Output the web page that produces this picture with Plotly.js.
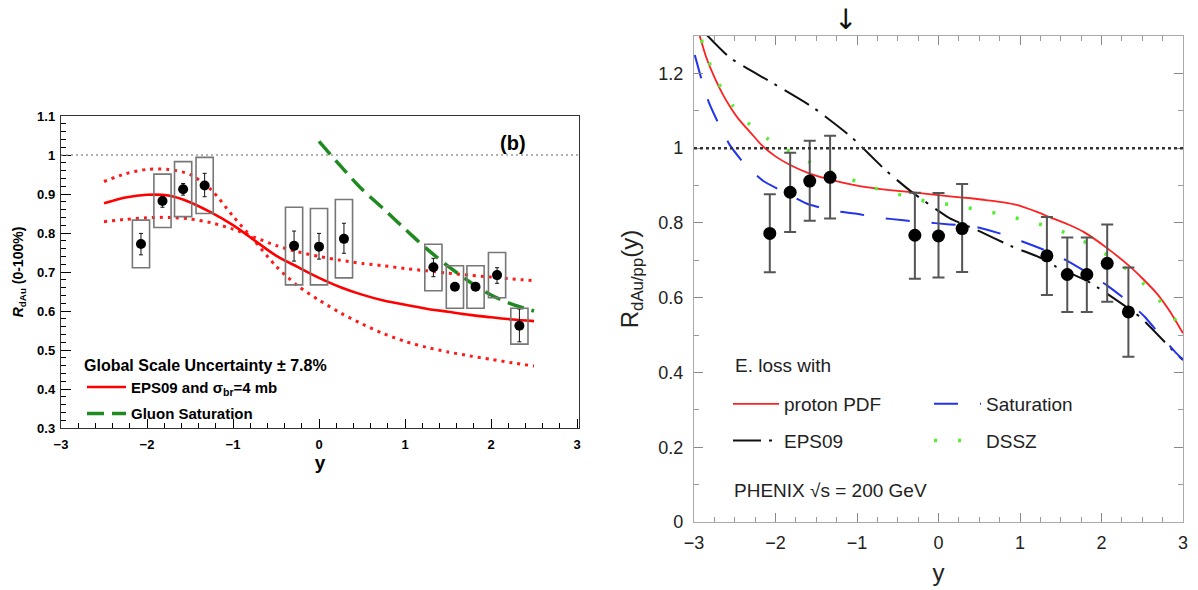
<!DOCTYPE html>
<html><head><meta charset="utf-8">
<script src="https://cdn.plot.ly/plotly-3.0.1.min.js"></script>
<style>body{margin:0;background:#fff}#chart{width:1198px;height:590px}</style>
</head><body><div id="chart"></div>
<script>
// ---- measured data (both panels) ----
const rapidity = [-2.07,-1.82,-1.58,-1.33,-0.29,0,0.29,1.33,1.58,1.82,2.07,2.33];
const rdau     = [0.772,0.882,0.912,0.922,0.767,0.765,0.785,0.712,0.662,0.662,0.692,0.562];
const statHigh = [0.799,0.894,0.927,0.953,0.805,0.799,0.825,0.735,0.670,0.670,0.711,0.605];
const statLow  = [0.744,0.866,0.897,0.893,0.728,0.733,0.748,0.688,0.654,0.654,0.671,0.521];
const sysHigh  = [0.833,0.951,0.983,0.994,0.866,0.863,0.886,0.771,0.716,0.716,0.750,0.607];
const sysLow   = [0.711,0.814,0.842,0.850,0.667,0.667,0.685,0.652,0.607,0.607,0.634,0.515];
const totHigh  = [0.877,0.988,1.020,1.033,0.881,0.880,0.904,0.816,0.761,0.761,0.796,0.681];
const totLow   = [0.668,0.776,0.806,0.812,0.651,0.654,0.669,0.607,0.562,0.562,0.589,0.442];

// ---- left panel models ----
const modelY       = [-2.5,-2.25,-2,-1.75,-1.5,-1.25,-1,-0.75,-0.5,-0.25,0,0.25,0.5,0.75,1,1.25,1.5,1.75,2,2.25,2.5];
const eps09Central = [0.876,0.891,0.898,0.896,0.879,0.852,0.820,0.781,0.742,0.713,0.685,0.661,0.642,0.627,0.616,0.606,0.598,0.590,0.584,0.578,0.574];
const eps09BandA   = [0.932,0.952,0.963,0.963,0.950,0.910,0.843,0.780,0.715,0.665,0.628,0.595,0.567,0.542,0.522,0.507,0.495,0.485,0.476,0.467,0.459];
const eps09BandB   = [0.829,0.835,0.839,0.840,0.836,0.826,0.810,0.789,0.768,0.752,0.740,0.730,0.722,0.716,0.709,0.703,0.697,0.692,0.687,0.682,0.678];
const gluonSatY    = [0,0.25,0.5,0.75,1,1.25,1.5,1.75,2,2.25,2.5];
const gluonSatVal  = [1.035,0.972,0.912,0.862,0.810,0.760,0.715,0.675,0.641,0.617,0.600];

// ---- right panel models ----
const pdfY   = [-2.93,-2.85,-2.75,-2.65,-2.55,-2.45,-2.3,-2.17,-2.0,-1.82,-1.58,-1.33,-1.0,-0.6,-0.2,0.14,0.4,0.55,0.8,0.96,1.2,1.37,1.6,1.78,2.06,2.35,2.5,2.68,2.85,3.0];
const pdfVal = [1.30,1.243,1.19,1.145,1.108,1.077,1.040,1.008,0.978,0.955,0.932,0.916,0.900,0.888,0.879,0.871,0.866,0.862,0.855,0.848,0.830,0.815,0.795,0.776,0.734,0.683,0.652,0.611,0.560,0.505];
const epsRY  = [-2.84,-2.56,-2.05,-1.54,-1.07,-0.64,-0.33,-0.02,0.14,0.47,0.89,1.27,1.44,1.82,1.97,2.47,2.91,3.0];
const epsRVal= [1.302,1.242,1.176,1.109,1.030,0.939,0.883,0.835,0.812,0.781,0.738,0.705,0.683,0.645,0.625,0.549,0.451,0.433];
const satRY  = [-2.99,-2.91,-2.82,-2.70,-2.56,-2.37,-2.15,-1.86,-1.62,-1.33,-1.02,-0.76,-0.43,-0.23,0.14,0.45,0.75,1.02,1.33,1.57,1.84,2.08,2.33,2.53,2.74,2.92,3.0];
const satRVal= [1.249,1.186,1.124,1.066,1.008,0.955,0.912,0.879,0.852,0.834,0.825,0.815,0.807,0.803,0.796,0.790,0.772,0.751,0.725,0.700,0.665,0.631,0.589,0.549,0.495,0.451,0.435];
const dsszY  = [-2.91,-2.81,-2.69,-2.53,-2.33,-2.10,-1.83,-1.57,-1.30,-1.02,-0.74,-0.44,-0.16,0.14,0.44,0.73,1.02,1.32,1.60,1.86,2.12,2.36,2.57,2.78,2.96];
const dsszVal= [1.29,1.228,1.17,1.115,1.066,1.026,0.992,0.962,0.935,0.912,0.890,0.874,0.858,0.849,0.837,0.825,0.809,0.792,0.770,0.742,0.707,0.668,0.626,0.576,0.525];

const W = 1198, H = 590;
const px = v => v / W, py = v => (H - v) / H;

const traces = [];
// left panel
traces.push({x: modelY, y: eps09BandA, mode:'lines', line:{color:'#ff1a1a', width:3, dash:'3px,5px', shape:'spline', smoothing:0.8}, showlegend:false, xaxis:'x', yaxis:'y', hoverinfo:'skip'});
traces.push({x: modelY, y: eps09BandB, mode:'lines', line:{color:'#ff1a1a', width:3, dash:'3px,5px', shape:'spline', smoothing:0.8}, showlegend:false, xaxis:'x', yaxis:'y', hoverinfo:'skip'});
traces.push({x: modelY, y: eps09Central, mode:'lines', name:'EPS09 and σ<sub>br</sub>=4 mb', legendgroup:'a', line:{color:'#ff0000', width:2.6, shape:'spline', smoothing:0.8}, xaxis:'x', yaxis:'y'});
traces.push({x: gluonSatY, y: gluonSatVal, mode:'lines', name:'Gluon Saturation', legendgroup:'b', line:{color:'#1f8a1f', width:3.5, dash:'17px,8px', shape:'spline', smoothing:0.8}, xaxis:'x', yaxis:'y'});
traces.push({x: rapidity, y: rdau, mode:'markers', marker:{color:'#000', size:10}, showlegend:false, xaxis:'x', yaxis:'y',
  error_y:{type:'data', symmetric:false, array: statHigh.map((h,i)=>h-rdau[i]), arrayminus: statLow.map((l,i)=>rdau[i]-l), color:'#111', thickness:1, width:2}});

// right panel
traces.push({x: pdfY, y: pdfVal, mode:'lines', name:'proton PDF', legend:'legend2', legendgroup:'p', line:{color:'#ff2020', width:1.8, shape:'spline', smoothing:0.5}, xaxis:'x2', yaxis:'y2'});
traces.push({x: epsRY, y: epsRVal, mode:'lines', name:'EPS09', legend:'legend2', legendgroup:'e', line:{color:'#111', width:2, dash:'28px,8px,3px,9px', shape:'spline', smoothing:0.5}, xaxis:'x2', yaxis:'y2'});
traces.push({x: satRY, y: satRVal, mode:'lines', name:'Saturation', legend:'legend3', legendgroup:'s', line:{color:'#2233ee', width:2, dash:'24px,22px', shape:'spline', smoothing:0.5}, xaxis:'x2', yaxis:'y2'});
traces.push({x: dsszY, y: dsszVal, mode:'lines', name:'DSSZ', legend:'legend3', legendgroup:'d', line:{color:'#55ee33', width:3.5, dash:'3px,21px', shape:'spline', smoothing:0.5}, xaxis:'x2', yaxis:'y2'});
traces.push({x: rapidity, y: rdau, mode:'markers', marker:{color:'#000', size:13}, showlegend:false, xaxis:'x2', yaxis:'y2',
  error_y:{type:'data', symmetric:false, array: totHigh.map((h,i)=>h-rdau[i]), arrayminus: totLow.map((l,i)=>rdau[i]-l), color:'#555', thickness:2, width:6}});

const shapes = [];
rapidity.forEach((r,i)=>{
  shapes.push({type:'rect', xref:'x', yref:'y', x0:r-0.1, x1:r+0.1, y0:sysLow[i], y1:sysHigh[i], line:{color:'#777', width:1.6}, layer:'above'});
});
shapes.push({type:'line', xref:'x domain', yref:'y', x0:0, x1:1, y0:1, y1:1, line:{color:'#999', width:1.3, dash:'2px,3px'}});
shapes.push({type:'line', xref:'x2 domain', yref:'y2', x0:0, x1:1, y0:1, y1:1, line:{color:'#333', width:2.5, dash:'3px,3px'}});

const fL = {family:'Liberation Sans, Arial, sans-serif', color:'#000'};
const fR = {family:'Liberation Sans, Arial, sans-serif', color:'#222'};

const layout = {
  width: W, height: H, margin:{l:0,r:0,t:0,b:0}, paper_bgcolor:'#fff', plot_bgcolor:'#fff',
  showlegend: true,
  xaxis:{domain:[px(61), px(579)], range:[-3,3.023], dtick:1, tick0:0, ticks:'inside', ticklen:9, tickcolor:'#000', tickwidth:1,
    minor:{dtick:0.2, ticks:'inside', ticklen:5, tickcolor:'#000', tickwidth:1},
    showline:true, linecolor:'#333', linewidth:1.2, mirror:true, showgrid:false, zeroline:false,
    tickfont:{...fL, size:13, weight:'bold'}, ticklabelstandoff:4,
    title:{text:'y', font:{...fL, size:19, weight:'bold'}, standoff:4}, anchor:'y'},
  yaxis:{domain:[py(428), py(116)], range:[0.3,1.1], dtick:0.1, tick0:0, ticks:'inside', ticklen:10, tickcolor:'#000',
    minor:{dtick:0.02, ticks:'inside', ticklen:5, tickcolor:'#000', tickwidth:1},
    showline:true, linecolor:'#333', linewidth:1.2, mirror:true, showgrid:false, zeroline:false,
    tickfont:{...fL, size:13, weight:'bold'}, ticklabelstandoff:2,
    title:{text:'<i>R</i><sub>dAu</sub> (0-100%)', font:{...fL, size:14, weight:'bold'}, standoff:10}, anchor:'x'},
  xaxis2:{domain:[px(694), px(1183)], range:[-3,3], dtick:1, tick0:0, ticks:'inside', ticklen:9, tickcolor:'#888',
    minor:{dtick:0.25, ticks:'inside', ticklen:5, tickcolor:'#999', tickwidth:1},
    showline:true, linecolor:'#aaa', linewidth:1.2, mirror:'ticks', showgrid:false, zeroline:false,
    tickfont:{...fR, size:18}, ticklabelstandoff:4,
    title:{text:'y', font:{...fR, size:24}, standoff:12}, anchor:'y2'},
  yaxis2:{domain:[py(522), py(36)], range:[0,1.3], dtick:0.2, tick0:0, ticks:'inside', ticklen:9, tickcolor:'#888',
    minor:{dtick:0.1, ticks:'inside', ticklen:5, tickcolor:'#999', tickwidth:1},
    showline:true, linecolor:'#aaa', linewidth:1.2, mirror:'ticks', showgrid:false, zeroline:false,
    tickfont:{...fR, size:18}, ticklabelstandoff:6,
    title:{text:'R<sub>dAu/pp</sub>(y)', font:{...fR, size:24}, standoff:12}, anchor:'x2'},
  legend:{x:px(82), y:py(350), xanchor:'left', yanchor:'top', bgcolor:'rgba(0,0,0,0)', borderwidth:0,
    font:{...fL, size:15, weight:'bold'}, tracegroupgap:4, itemwidth:39,
    title:{text:'Global Scale Uncertainty ± 7.8%', font:{...fL, size:16, weight:'bold'}}},
  legend2:{x:px(728), y:py(385), xanchor:'left', yanchor:'top', bgcolor:'rgba(0,0,0,0)', borderwidth:0,
    font:{...fR, size:19}, tracegroupgap:9, itemwidth:46},
  legend3:{x:px(929), y:py(385), xanchor:'left', yanchor:'top', bgcolor:'rgba(0,0,0,0)', borderwidth:0,
    font:{...fR, size:19}, tracegroupgap:9, itemwidth:47},
  shapes: shapes,
  annotations:[
    {xref:'x', yref:'y', x:2.25, y:1.03, text:'(b)', showarrow:false, font:{...fL, size:20, weight:'bold'}},
    {xref:'x2', yref:'y2', x:-2.53, y:0.085, xanchor:'left', text:'PHENIX √s = 200 GeV', showarrow:false, font:{...fR, size:19}},
    {xref:'paper', yref:'paper', x:px(733), y:py(365), xanchor:'left', text:'E. loss with', showarrow:false, font:{...fR, size:19}},
    {xref:'x2', yref:'paper', x:-1.14, y:1, yanchor:'top', yshift:-1, text:'↓', showarrow:false, font:{family:'DejaVu Sans', size:28, color:'#111'}}
  ]
};

Plotly.newPlot('chart', traces, layout, {displayModeBar:false, staticPlot:true});
</script>
</body></html>
